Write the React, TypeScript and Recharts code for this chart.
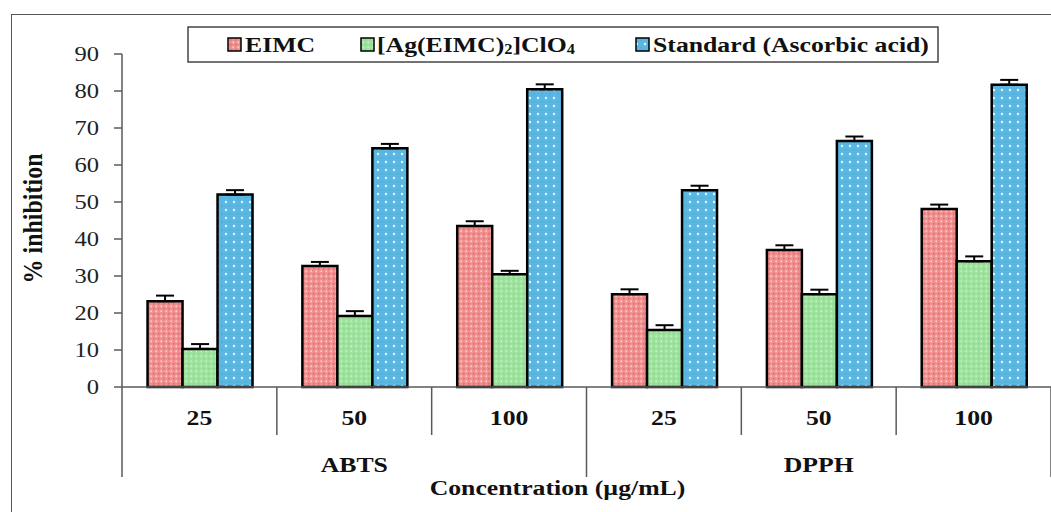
import React from 'react';
import { BarChart, Bar, XAxis, YAxis, ErrorBar } from 'recharts';

// Assays and concentrations (µg/mL) on the two-level category axis
const assays = ['ABTS', 'DPPH'];
const concentrations = ['25', '50', '100'];

// % inhibition, ordered ABTS 25/50/100 then DPPH 25/50/100
const eimc = [23.2, 32.7, 43.5, 25.1, 37.0, 48.1];
const eimcErr = [1.5, 1.1, 1.3, 1.3, 1.3, 1.2];
const silverComplex = [10.3, 19.2, 30.5, 15.4, 25.1, 34.0];
const silverComplexErr = [1.3, 1.3, 0.9, 1.3, 1.2, 1.3];
const standard = [52.0, 64.5, 80.5, 53.2, 66.5, 81.7];
const standardErr = [1.2, 1.2, 1.3, 1.2, 1.2, 1.3];

const yTicks = [0, 10, 20, 30, 40, 50, 60, 70, 80, 90];

const rows = assays.flatMap((assay, i) =>
  concentrations.map((conc, j) => {
    const k = i * concentrations.length + j;
    return {
      id: `${assay}-${conc}`,
      assay,
      conc,
      eimc: eimc[k],
      eimcErr: [0, eimcErr[k]],
      complex: silverComplex[k],
      complexErr: [0, silverComplexErr[k]],
      standard: standard[k],
      standardErr: [0, standardErr[k]],
    };
  })
);

const CHART_W = 1051;
const CHART_H = 512;
const Y_AXIS_W = 122;
const BAND = (CHART_W - Y_AXIS_W) / rows.length;
const STRETCH = 1.17;
const SERIF = '"Liberation Serif", "Times New Roman", serif';
const AXIS_GRAY = '#5a5a5a';

type STextProps = {
  x: number;
  y: number;
  size: number;
  bold?: boolean;
  anchor?: 'start' | 'middle' | 'end';
  rotate?: number;
  fill?: string;
  children: React.ReactNode;
};

// Text drawn slightly wide, like the original figure's lettering
const SText = ({ x, y, size, bold, anchor = 'middle', rotate = 0, fill = '#111', children }: STextProps) => (
  <text
    transform={`translate(${x},${y}) scale(${STRETCH},1) rotate(${rotate})`}
    textAnchor={anchor}
    fontFamily={SERIF}
    fontSize={size}
    fontWeight={bold ? 700 : 400}
    fill={fill}
  >
    {children}
  </text>
);

const Patterns = () => (
  <defs>
    <pattern id="pat-red" width="5" height="5" patternUnits="userSpaceOnUse">
      <rect width="5" height="5" fill="#f18f8f" />
      <circle cx="1.25" cy="1.25" r="0.9" fill="#fbcccc" />
      <circle cx="3.75" cy="3.75" r="0.9" fill="#de7070" />
    </pattern>
    <pattern id="pat-green" width="5" height="5" patternUnits="userSpaceOnUse">
      <rect width="5" height="5" fill="#9de29d" />
      <circle cx="1.25" cy="1.25" r="0.9" fill="#c9f2c9" />
      <circle cx="3.75" cy="3.75" r="0.8" fill="#86d486" />
    </pattern>
    <pattern id="pat-blue" width="8" height="8" patternUnits="userSpaceOnUse">
      <rect width="8" height="8" fill="#5ab7e1" />
      <circle cx="2" cy="2" r="1.2" fill="#e6f6ff" />
      <circle cx="6" cy="6" r="0.8" fill="#4aa6d2" />
    </pattern>
  </defs>
);

const YTick = (props: any) => {
  const { x, y, payload } = props;
  return (
    <SText x={x} y={y + 7} size={21} anchor="end" fill="#222">
      {payload.value}
    </SText>
  );
};

const XTick = (props: any) => {
  const { x, y, payload } = props;
  const index = rows.findIndex((r) => r.id === payload.value);
  const row = rows[index];
  const pos = index % concentrations.length;
  const half = BAND / 2;
  return (
    <g>
      <line
        x1={x - half}
        x2={x - half}
        y1={y}
        y2={y + (pos === 0 ? 90 : 48)}
        stroke={AXIS_GRAY}
        strokeWidth={1.5}
      />
      {index === rows.length - 1 && (
        <line x1={x + half} x2={x + half} y1={y} y2={y + 90} stroke={AXIS_GRAY} strokeWidth={1.5} />
      )}
      <SText x={x} y={y + 38} size={22} bold>
        {row.conc}
      </SText>
      {pos === 1 && (
        <SText x={x} y={y + 85} size={22} bold>
          {row.assay}
        </SText>
      )}
    </g>
  );
};

const legendItems = [
  { key: 'eimc', fill: 'url(#pat-red)', sq: 41, tx: 58 },
  { key: 'complex', fill: 'url(#pat-green)', sq: 174, tx: 190 },
  { key: 'standard', fill: 'url(#pat-blue)', sq: 449, tx: 466 },
];

const LegendBox = () => (
  <svg width={752} height={37} style={{ position: 'absolute', left: 187, top: 26 }}>
    <Patterns />
    <rect x={1} y={1} width={750} height={35} fill="#fff" stroke="#444" strokeWidth={1.5} />
    {legendItems.map((it) => (
      <rect key={it.key} x={it.sq} y={12} width={13} height={13} fill={it.fill} stroke="#000" strokeWidth={1.5} />
    ))}
    <SText x={legendItems[0].tx} y={26} size={22} bold anchor="start">
      EIMC
    </SText>
    <text
      transform={`translate(${legendItems[1].tx},26) scale(${STRETCH},1)`}
      fontFamily={SERIF}
      fontSize={22}
      fontWeight={700}
      fill="#111"
    >
      [Ag(EIMC)
      <tspan fontSize={14} dy={2}>2</tspan>
      <tspan dy={-2}>]ClO</tspan>
      <tspan fontSize={14} dy={2}>4</tspan>
    </text>
    <SText x={legendItems[2].tx} y={26} size={22} bold anchor="start">
      Standard (Ascorbic acid)
    </SText>
  </svg>
);

export default function App() {
  return (
    <div
      style={{
        position: 'absolute',
        left: 0,
        top: 0,
        width: CHART_W,
        height: CHART_H,
        overflow: 'hidden',
        background: '#fff',
      }}
    >
      <div
        style={{
          position: 'absolute',
          left: 11,
          top: 14,
          width: CHART_W - 11,
          height: CHART_H - 14,
          borderLeft: '1.5px solid #555',
          borderTop: '1.5px solid #555',
        }}
      />
      <div style={{ position: 'absolute', left: 0, top: 0 }}>
        <BarChart
          width={CHART_W}
          height={CHART_H}
          data={rows}
          margin={{ top: 54, right: 0, bottom: 0, left: 0 }}
          barCategoryGap="16.5%"
          barGap={0}
        >
          <Patterns />
          <XAxis
            dataKey="id"
            height={125}
            interval={0}
            tickSize={0}
            tickMargin={0}
            tickLine={false}
            axisLine={{ stroke: AXIS_GRAY, strokeWidth: 1.5 }}
            tick={<XTick />}
            label={{
              content: (p: any) => {
                const vb = p.viewBox;
                return (
                  <SText x={vb.x + vb.width / 2 - 29} y={vb.y + 108} size={22} bold>
                    Concentration (µg/mL)
                  </SText>
                );
              },
            }}
          />
          <YAxis
            width={Y_AXIS_W}
            domain={[0, 90]}
            ticks={yTicks}
            interval={0}
            tickSize={8}
            tickMargin={15}
            tickLine={{ stroke: AXIS_GRAY, strokeWidth: 1.5 }}
            axisLine={{ stroke: AXIS_GRAY, strokeWidth: 1.5 }}
            tick={<YTick />}
            label={{
              content: (p: any) => {
                const vb = p.viewBox;
                return (
                  <SText x={vb.x + 42} y={vb.y + vb.height / 2 - 2} size={24} bold rotate={-90}>
                    % inhibition
                  </SText>
                );
              },
            }}
          />
          <Bar dataKey="eimc" fill="url(#pat-red)" stroke="#000" strokeWidth={2.5} isAnimationActive={false}>
            <ErrorBar dataKey="eimcErr" width={9} stroke="#000" strokeWidth={2} direction="y" />
          </Bar>
          <Bar dataKey="complex" fill="url(#pat-green)" stroke="#000" strokeWidth={2.5} isAnimationActive={false}>
            <ErrorBar dataKey="complexErr" width={9} stroke="#000" strokeWidth={2} direction="y" />
          </Bar>
          <Bar dataKey="standard" fill="url(#pat-blue)" stroke="#000" strokeWidth={2.5} isAnimationActive={false}>
            <ErrorBar dataKey="standardErr" width={9} stroke="#000" strokeWidth={2} direction="y" />
          </Bar>
        </BarChart>
      </div>
      <LegendBox />
    </div>
  );
}
